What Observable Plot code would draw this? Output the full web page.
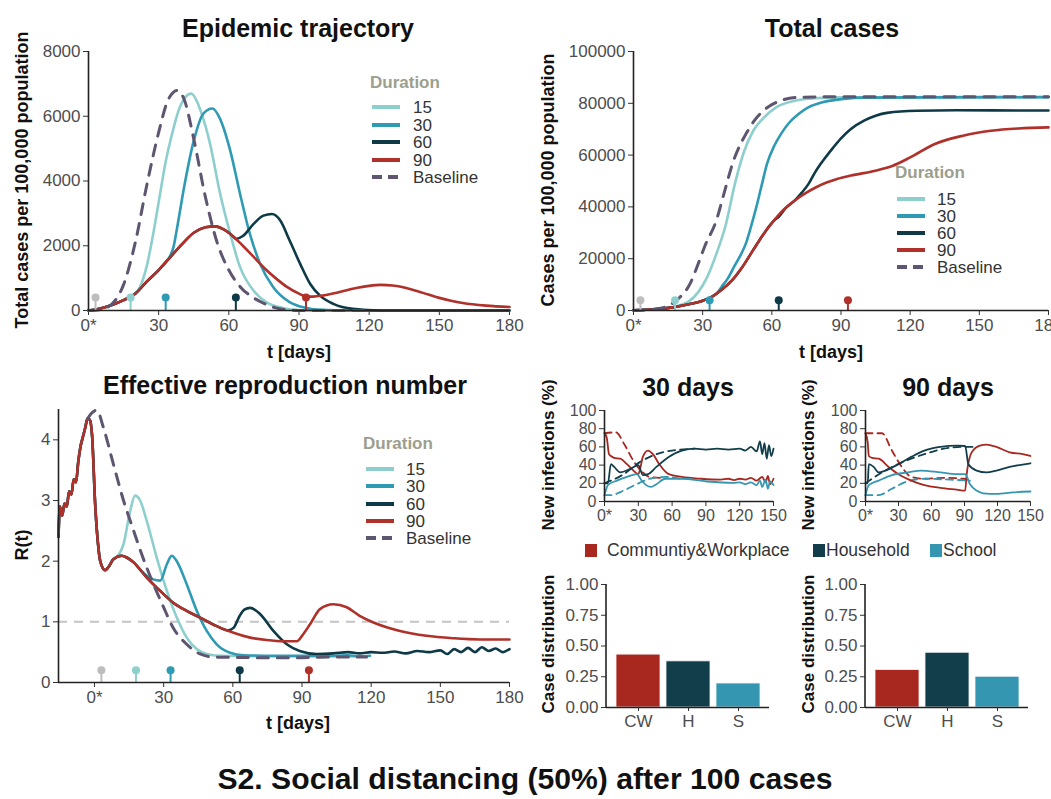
<!DOCTYPE html>
<html><head><meta charset="utf-8">
<script src="https://cdn.jsdelivr.net/npm/d3@7"></script>
<script src="https://cdn.jsdelivr.net/npm/@observablehq/plot@0.6"></script>
<style>
body{margin:0;background:#fff;}
#root{position:relative;width:1051px;height:799px;overflow:hidden;font-family:"Liberation Sans",Arial,Helvetica,sans-serif;background:#fff;}
.pan{position:absolute;}
.lab{position:absolute;white-space:nowrap;line-height:1;}
</style></head><body><div id="root"></div>
<script>
// ---------- colours ----------
const c15 = "#8dcfcd", c30 = "#2f9ab3", c60 = "#0e3a47", c90 = "#b0302a", cBase = "#5e5570", cGrey = "#bdbdbd";
const cCW = "#a8281f", cH = "#123e4b", cS = "#3496b0";

// ---------- Epidemic trajectory (cases per 100,000) ----------
const epi90 = [[0,0],[5,60],[10,170],[15,320],[20,520],[25,900],[30,1250],[35,1650],[40,2050],[45,2400],[50,2570],[54,2600],[58,2500],[62,2280],[66,2000],[70,1700],[75,1320],[80,1000],[85,720],[90,520],[93,430],[96,430],[100,460],[105,530],[110,620],[115,700],[120,760],[125,790],[130,770],[135,710],[140,610],[145,500],[150,390],[155,300],[160,230],[170,150],[180,110]];
const epi15 = [[18,440],[21,600],[23,900],[25,1400],[28,2500],[30.6,3600],[33,4600],[35,5240],[39,6270],[41,6550],[44,6700],[47,6350],[50,5700],[52,5140],[56,3700],[60.6,2365],[64.8,1340],[70.5,620],[76,260],[83,80],[90,10],[100,0],[180,0]];
const epi30 = [[33,1490],[35,1700],[36.3,1950],[38,2600],[40.6,3700],[45,5240],[49,6070],[53,6240],[56,5960],[60.6,4940],[64.8,3600],[69,2365],[73.4,1440],[79,720],[86,260],[93,80],[100,20],[110,0],[180,0]];
const epi60 = [[63,2210],[66,2300],[70.5,2670],[74.8,2930],[78.4,2980],[82,2780],[86,2160],[90.5,1440],[94.8,820],[99,460],[104.7,205],[113,50],[125,0],[180,0]];
const epiBase = [[0,0],[5,30],[10,200],[15,800],[20,2100],[25,3900],[30,5500],[34,6500],[38,6800],[41,6500],[45,5300],[50,3500],[55,2100],[60,1250],[65,720],[70,420],[75,220],[80,80],[85,20],[90,0],[120,0]];

// ---------- Total cases ----------
const tot90 = [[0,100],[5,300],[10,600],[17,1200],[24,2400],[30,3800],[33.6,5100],[38,7800],[42.7,11600],[47,16500],[51.8,23200],[56,29000],[60.9,34700],[65,38800],[70,42500],[75,45500],[79.2,47600],[84,49500],[88.3,50800],[94.3,52100],[104.9,54000],[112.5,55900],[120,59100],[130.7,64300],[142.9,67500],[155,69400],[167,70300],[180,70700]];
const tot15 = [[18,1500],[21,2300],[24,3500],[28,7000],[32,13000],[36,22000],[40,33000],[44,49000],[48,61500],[52,69500],[56,74000],[62,78500],[70,81000],[80,82000],[90,82300],[180,82400]];
const tot30 = [[33,4900],[36,6500],[38.1,9000],[41,12500],[44,17500],[46.5,21500],[48.8,26000],[51,32500],[53.3,40000],[55.5,48000],[57.9,56600],[61,63500],[64,68200],[67.5,72500],[71.6,75900],[76,78500],[82,80400],[91,81700],[100,82200],[180,82400]];
const tot60 = [[63,36200],[66,39500],[70,42500],[73,45500],[76,49000],[79.2,54000],[83,58800],[86.7,63000],[90,66500],[94.3,70100],[100,73300],[105,75200],[110,76300],[123,77100],[140,77300],[180,77200]];
const totBase = [[0,0],[10,600],[15.2,1900],[20,5000],[24.5,10300],[27.5,16700],[31,25000],[35.9,34700],[39.6,46300],[43.4,57900],[46,63500],[48.8,68200],[52,72800],[56.4,77200],[60,79500],[64,81100],[72,82300],[85,82500],[180,82500]];

// ---------- Effective reproduction number ----------
const r90 = [[-15.6,2.4],[-15,2.9],[-14,2.75],[-13,2.95],[-12,2.9],[-11,3.15],[-10,3.1],[-9,3.35],[-8,3.3],[-7,3.65],[-6,3.9],[-5,4.05],[-4,4.2],[-3,4.35],[-2,4.33],[-1,4.05],[0.3,2.94],[1.5,2.3],[2.5,2.0],[4.6,1.85],[6,1.9],[8.2,2.03],[11.8,2.09],[14,2.06],[17,1.98],[22.7,1.73],[28.5,1.51],[34,1.32],[40,1.18],[45.8,1.07],[53,0.93],[60.3,0.82],[67.5,0.74],[74.7,0.70],[82,0.68],[87.7,0.68],[90.6,0.80],[93.5,0.96],[97.8,1.21],[103.6,1.29],[109.4,1.24],[115,1.10],[121,0.99],[132.5,0.85],[144,0.77],[155.6,0.73],[167,0.71],[180,0.71]];
const r15 = [[9.7,2.07],[12.6,2.28],[15.5,2.83],[17.6,3.08],[19.8,3.0],[22.7,2.66],[27,2.06],[31.4,1.51],[35.7,1.07],[40,0.74],[44.4,0.55],[48.7,0.47],[54.5,0.44],[80,0.43],[100,0.43],[118,0.43]];
const r30 = [[20,1.85],[22.7,1.76],[25.5,1.7],[28.5,1.68],[31.4,1.95],[33.5,2.09],[35.7,2.0],[40,1.62],[44.4,1.18],[48.7,0.85],[53,0.63],[58.8,0.49],[64.6,0.45],[80,0.44],[100,0.44],[110,0.45],[115,0.43],[119.5,0.44]];
const r60 = [[58,0.86],[60.3,0.9],[63,1.1],[65,1.2],[67.5,1.23],[71.8,1.13],[77.6,0.85],[83.4,0.63],[89,0.52],[96.4,0.47],[103.6,0.48],[110,0.5],[115,0.48],[120,0.5],[125,0.49],[130,0.51],[135,0.48],[140,0.52],[145,0.5],[150,0.53],[153,0.47],[156,0.55],[159,0.5],[162,0.57],[165,0.5],[168,0.58],[171,0.52],[174,0.56],[177,0.5],[180,0.55]];
const rBase = [[-3,4.35],[-1,4.45],[1,4.49],[3.9,4.2],[8.2,3.6],[12.6,3.0],[17,2.5],[21,2.06],[25.6,1.62],[30,1.24],[34,0.91],[40,0.63],[45.8,0.47],[51.6,0.42],[70,0.41],[90,0.41],[105,0.42],[118,0.42]];

// ---------- New infections by setting (%) ----------
const inf30CW = [[0,75],[2,70],[4,52],[5.7,50],[8.6,48],[14,47],[20,41],[25.7,34],[30,30],[32,38],[34,49],[38.6,56],[43,52],[48.6,41],[57,30],[68.6,27],[85.7,25],[103,24],[110,25],[115,23.5],[120,25],[125,24],[130,26],[135,23],[140,27],[143,21],[145,28],[147,19],[150,25]];
const inf30CWb = [[0,75],[10,76],[18,62],[26,44],[34,32],[40,27],[50,26]];
const inf30H = [[0,20],[3,20],[5.7,41],[8.6,38],[14,32],[23,36],[30,40],[34,29],[38.6,30],[46,38],[57,49],[68.6,56],[80,58],[90,57],[100,58],[110,57],[120,58],[125,56],[130,60],[135,55],[138,66],[140,52],[142,64],[144,47],[146,62],[148,50],[150,58]];
const inf30Hb = [[0,20],[17,30],[31,43],[46,52],[60,56],[80,58]];
const inf30S = [[0,7],[3,18],[11,23],[20,27],[28.6,30],[33,23],[37,18],[41.4,16],[46,19],[54,25],[68.6,25],[91,22],[114,20.5],[120,21],[125,19],[130,21],[135,18],[138,23],[140,16],[143,24],[145,14],[147,22],[150,18]];
const inf30Sb = [[0,7],[5.7,7],[17,12],[28.6,19],[40,25],[54,27],[68,25]];
const inf90CW = [[0,75],[2,65],[3,50],[6,48],[12,47],[21,38],[30,30],[41.6,23],[53.5,18],[68,15],[83,13],[90.6,12],[92,30],[94,45],[96.5,54],[104,61.5],[110,62.6],[119,60],[131,54],[143,52],[150,50]];
const inf90CWb = [[0,75],[15,75],[24,56],[33,38],[41.6,27],[53.5,25],[71,26],[89,25],[96.5,23]];
const inf90H = [[0,20],[2,20],[3,41],[7.4,38],[12,32],[18,34],[30,41],[41.6,49],[53.5,56],[68,60],[83,61.5],[90.6,61],[93.5,41],[101,34],[110,32],[119,34],[131,38],[150,42]];
const inf90Hb = [[0,20],[18,34],[33,43],[53.5,52],[71,58],[89,60],[98,60]];
const inf90S = [[0,7],[3,18],[12,23],[24,29],[38.6,32],[50.5,34],[68,32],[83,30],[90.6,30],[95,19],[101,12],[107,9],[119,8.4],[134,10],[150,11]];
const inf90Sb = [[0,7],[12,7],[24,14],[35.6,21],[53.5,25],[77,24],[95,23]];

// ---------- Case distribution ----------
const settings = ["CW", "H", "S"];
const share30 = [0.43, 0.375, 0.195];
const share90 = [0.305, 0.445, 0.25];

// ---------- markers & ticks ----------
const markT = [3, 18, 33, 63, 93];
const markC = [cGrey, c15, c30, c60, c90];
const ticks180 = [0, 30, 60, 90, 120, 150, 180];
const ticks150 = [0, 30, 60, 90, 120, 150];
const durations = ["15", "30", "60", "90", "Baseline"];
const durColors = [c15, c30, c60, c90, cBase];

// ---------- helpers ----------
const FONT = '"Liberation Sans", Arial, Helvetica, sans-serif';
const root = document.getElementById("root");
const xf = d => d === 0 ? "0*" : String(d);
const marks5 = markT.map((t, i) => ({t, c: markC[i]}));
function join(base, branch) { return base.filter(d => d[0] < branch[0][0]).concat(branch); }
function place(node, left, top) {
  const d = document.createElement("div");
  d.className = "pan"; d.style.left = left + "px"; d.style.top = top + "px";
  d.appendChild(node); root.appendChild(d);
}
function text(str, x, y, o = {}) {
  const d = document.createElement("div");
  d.className = "lab"; d.textContent = str;
  d.style.left = x + "px"; d.style.top = y + "px";
  d.style.fontSize = (o.size || 17) + "px";
  d.style.fontWeight = o.weight || "normal";
  d.style.color = o.color || "#000";
  if (o.family) d.style.fontFamily = o.family;
  const ax = o.align === "left" ? "0" : "-50%";
  d.style.transform = `translate(${ax},-50%)` + (o.rotate ? " rotate(-90deg)" : "");
  root.appendChild(d);
  return d;
}
function line(data, stroke, o = {}) {
  return Plot.line(data, {x: d => d[0], y: d => d[1], stroke, strokeWidth: o.w || 2.6, strokeDasharray: o.dash, curve: "monotone-x"});
}
function axes(xticks, yticks, yfmt, fs) {
  return [
    Plot.axisX({ticks: xticks, tickFormat: xf, tickSize: 5, tickPadding: 3, label: null, fontSize: fs, stroke: "#333", fill: "#4d4d4d"}),
    Plot.axisY({ticks: yticks, tickFormat: yfmt, tickSize: 5, tickPadding: 3, label: null, fontSize: fs, stroke: "#333", fill: "#4d4d4d"}),
  ];
}
function frame(xmin) {
  return [Plot.ruleY([0], {stroke: "#222", strokeWidth: 1.6}), Plot.ruleX([xmin], {stroke: "#222", strokeWidth: 1.6})];
}
function lollipops(h) {
  return [
    Plot.ruleX(marks5, {x: "t", y1: 0, y2: h, stroke: d => d.c, strokeWidth: 2}),
    Plot.dot(marks5, {x: "t", y: h, fill: d => d.c, r: 4})
  ];
}
const baseStyle = {fontFamily: FONT, background: "transparent", overflow: "visible", color: "#4d4d4d"};

// ---------- Panel 1 : Epidemic trajectory ----------
place(Plot.plot({
  width: 520, height: 330, marginLeft: 88, marginRight: 11, marginTop: 11, marginBottom: 60,
  style: {...baseStyle, fontSize: "17px"}, color: {type: "identity"},
  x: {domain: [0, 180]}, y: {domain: [0, 8000]},
  marks: [
    ...axes(ticks180, [0, 2000, 4000, 6000, 8000], d => String(d), 17),
    line(join(epi90, epi15), c15),
    line(join(epi90, epi30), c30),
    line(join(epi90, epi60), c60),
    line(epi90, c90),
    line(epiBase, cBase, {w: 3, dash: "11,9"}),
    ...lollipops(400),
    ...frame(0)
  ]
}), 0, 40);

// ---------- Panel 2 : Total cases ----------
place(Plot.plot({
  width: 531, height: 330, marginLeft: 113, marginRight: 3, marginTop: 11, marginBottom: 60,
  style: {...baseStyle, fontSize: "17px"}, color: {type: "identity"},
  x: {domain: [0, 180]}, y: {domain: [0, 100000]},
  marks: [
    ...axes(ticks180, [0, 20000, 40000, 60000, 80000, 100000], d => String(d), 17),
    line(join(tot90, tot15), c15),
    line(join(tot90, tot30), c30),
    line(join(tot90, tot60), c60),
    line(tot90, c90),
    line(totBase, cBase, {w: 3, dash: "11,9"}),
    ...lollipops(4000),
    ...frame(0)
  ]
}), 520, 40);

// ---------- Panel 3 : R(t) ----------
place(Plot.plot({
  width: 520, height: 370, marginLeft: 58, marginRight: 11, marginTop: 39, marginBottom: 58,
  style: {...baseStyle, fontSize: "17px"}, color: {type: "identity"},
  x: {domain: [-15.6, 180]}, y: {domain: [0, 4.5]},
  marks: [
    ...axes(ticks180, [0, 1, 2, 3, 4], d => String(d), 17),
    Plot.ruleY([1], {stroke: "#c4c4c4", strokeWidth: 2, strokeDasharray: "9,7"}),
    line(join(r90, r15), c15),
    line(join(r90, r30), c30),
    line(join(r90, r60), c60),
    line(r90, c90),
    line(rBase, cBase, {w: 3, dash: "11,9"}),
    ...lollipops(0.2),
    ...frame(-15.6)
  ]
}), 0, 370);

// ---------- Small panels : new infections ----------
function infPanel(cw, cwb, h, hb, s, sb, w, ml, mr) {
  return Plot.plot({
    width: w, height: 140, marginLeft: ml, marginRight: mr, marginTop: 15, marginBottom: 34,
    style: {...baseStyle, fontSize: "16px"},
    x: {domain: [0, 150]}, y: {domain: [0, 100]},
    marks: [
      ...axes(ticks150, [0, 20, 40, 60, 80, 100], d => String(d), 16),
      line(cwb, cCW, {w: 1.8, dash: "7,5"}),
      line(hb, cH, {w: 1.8, dash: "7,5"}),
      line(sb, cS, {w: 1.8, dash: "7,5"}),
      line(cw, cCW, {w: 1.8}),
      line(h, cH, {w: 1.8}),
      line(s, cS, {w: 1.8}),
      ...frame(0)
    ]
  });
}
place(infPanel(inf30CW, inf30CWb, inf30H, inf30Hb, inf30S, inf30Sb, 270, 84, 17), 520, 395);
place(infPanel(inf90CW, inf90CWb, inf90H, inf90Hb, inf90S, inf90Sb, 271, 85, 21), 780, 395);

// ---------- Bar panels ----------
function barPanel(vals, w, ml, mr) {
  const rows = settings.map((k, i) => ({k, v: vals[i]}));
  return Plot.plot({
    width: w, height: 170, marginLeft: ml, marginRight: mr, marginTop: 14, marginBottom: 33,
    style: {...baseStyle, fontSize: "17px"},
    x: {domain: settings, paddingInner: 0.12, paddingOuter: 0.19},
    y: {domain: [0, 1]},
    color: {domain: settings, range: [cCW, cH, cS]},
    marks: [
      Plot.axisX({tickSize: 4, tickPadding: 3, label: null, fontSize: 17, stroke: "#333", fill: "#4d4d4d"}),
      Plot.axisY({ticks: [0, 0.25, 0.5, 0.75, 1], tickFormat: d3.format(".2f"), tickSize: 5, tickPadding: 3, label: null, fontSize: 17, stroke: "#333", fill: "#4d4d4d"}),
      Plot.barY(rows, {x: "k", y: "v", fill: "k", stroke: "#f4f4f4", strokeWidth: 0.8}),
      Plot.ruleY([0], {stroke: "#222", strokeWidth: 1.6})
    ]
  });
}
place(barPanel(share30, 260, 86, 11), 520, 570);
place(barPanel(share90, 271, 85, 23), 780, 570);
function ylineSvg(x, y1, y2) {
  const s = document.createElementNS("http://www.w3.org/2000/svg", "svg");
  s.setAttribute("width", 4); s.setAttribute("height", y2 - y1 + 2);
  s.style.position = "absolute"; s.style.left = (x - 2) + "px"; s.style.top = (y1 - 1) + "px";
  s.innerHTML = `<line x1="2" x2="2" y1="1" y2="${y2 - y1 + 1}" stroke="#222" stroke-width="1.6"/>`;
  root.appendChild(s);
}
ylineSvg(606, 584, 707);
ylineSvg(865, 584, 707);

// ---------- titles & axis titles ----------
const T = {weight: "bold", size: 25, color: "#111"};
text("Epidemic trajectory", 298, 28, T);
text("Total cases", 832, 28, T);
text("Effective reproduction number", 285, 385, T);
text("30 days", 688, 387, T);
text("90 days", 948, 387, T);
const A = {weight: "bold", size: 18, color: "#111"};
text("Total cases per 100,000 population", 22, 180, {...A, rotate: true});
text("t [days]", 299, 352, A);
text("Cases per 100,000 population", 548, 180, {...A, rotate: true});
text("t [days]", 831, 352, A);
text("R(t)", 22, 545, {...A, rotate: true});
text("t [days]", 298, 723, A);
const B = {weight: "bold", size: 17, color: "#111", rotate: true};
text("New infections (%)", 548, 455, B);
text("New infections (%)", 808, 455, B);
text("Case distribution", 548, 644, B);
text("Case distribution", 808, 644, B);
const big = text("S2. Social distancing (50%) after 100 cases", 525, 779, {weight: "bold", size: 30, color: "#111"});
const bw = big.offsetWidth || 615;
big.style.transform = `translate(-50%,-50%) scaleX(${(615 / bw).toFixed(3)})`;

// ---------- duration legends ----------
function durLegend(tx, ty, sx, lx, y0, dy) {
  text("Duration", tx, ty, {weight: "bold", size: 17, color: "#9c9e8e", align: "left"});
  durations.forEach((name, i) => {
    const y = y0 + i * dy;
    const s = document.createElementNS("http://www.w3.org/2000/svg", "svg");
    s.setAttribute("width", 30); s.setAttribute("height", 8);
    s.style.position = "absolute"; s.style.left = sx + "px"; s.style.top = (y - 4) + "px";
    const dash = name === "Baseline" ? ' stroke-dasharray="10,6"' : "";
    s.innerHTML = `<line x1="0" x2="28" y1="4" y2="4" stroke="${durColors[i]}" stroke-width="4"${dash}/>`;
    root.appendChild(s);
    text(name, lx, y, {size: 17, color: "#333", align: "left"});
  });
}
durLegend(370, 82, 372, 413, 107, 17.5);
durLegend(895, 172, 897, 937, 199, 17);
durLegend(363, 443, 366, 406, 469, 17.3);

// ---------- setting legend ----------
const setNames = ["Communtiy&Workplace", "Household", "School"];
const setCols = [cCW, cH, cS];
const setSq = [585, 813, 930], setTx = [607, 826, 943];
setNames.forEach((n, i) => {
  const sq = document.createElement("div");
  sq.style.cssText = `position:absolute;left:${setSq[i]}px;top:544px;width:12px;height:13px;background:${setCols[i]};`;
  root.appendChild(sq);
  text(n, setTx[i], 551, {size: 17.5, color: "#333", align: "left"});
});
</script></body></html>
